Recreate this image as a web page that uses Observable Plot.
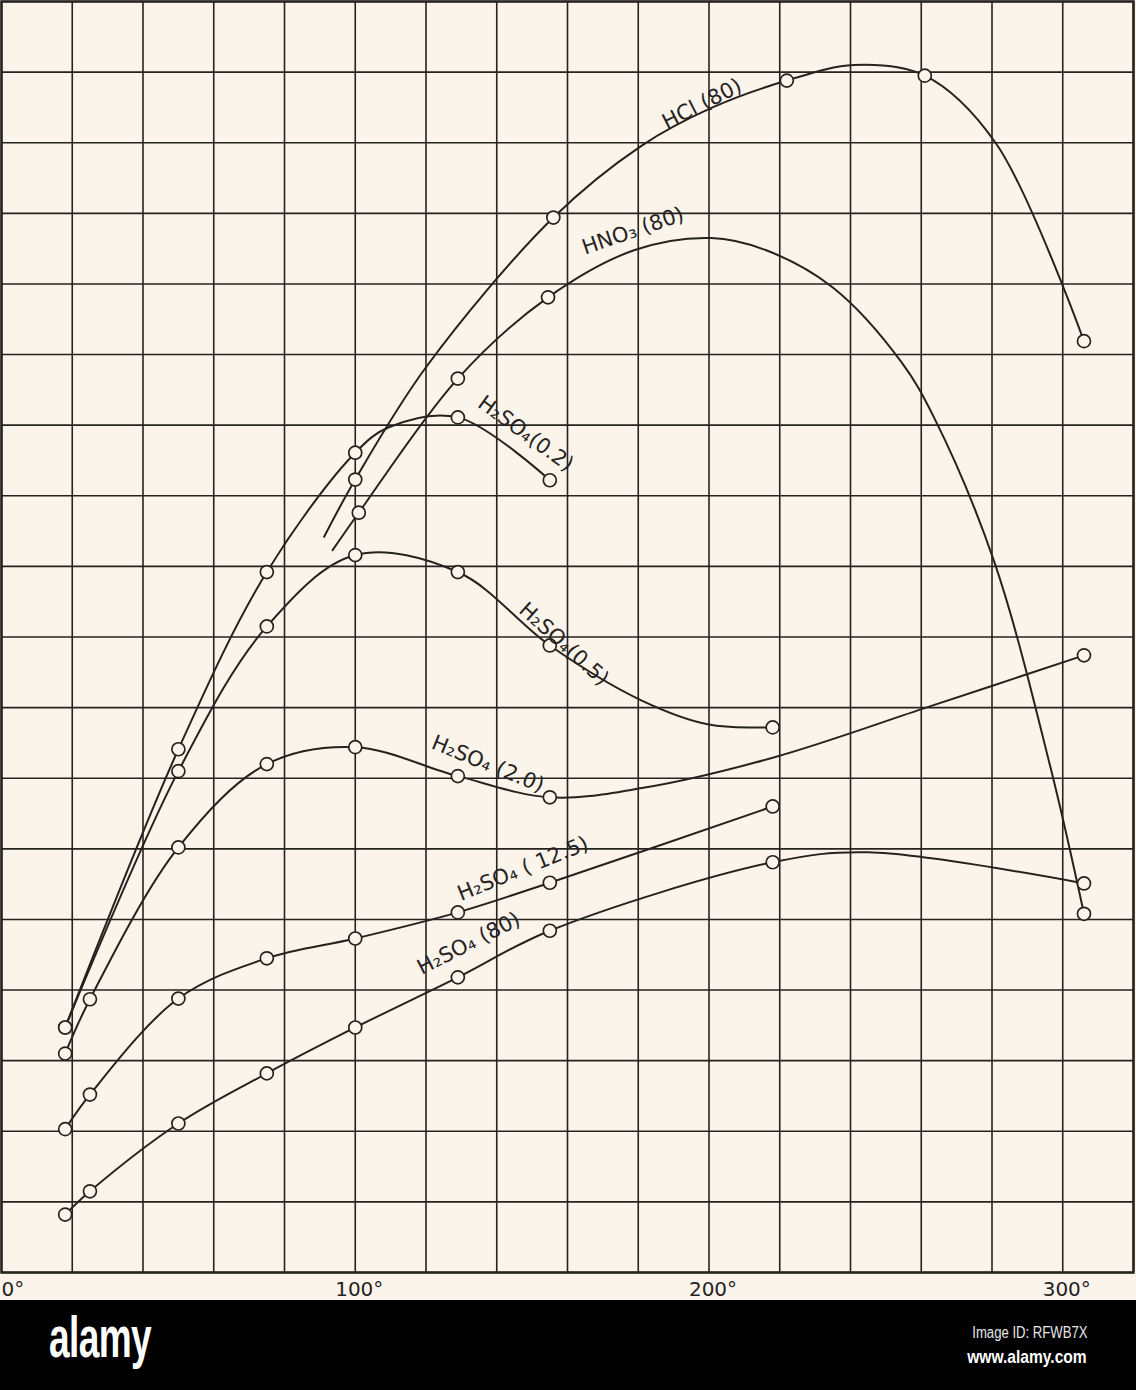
<!DOCTYPE html>
<html><head><meta charset="utf-8">
<script src="https://cdn.jsdelivr.net/npm/d3@7"></script>
<script src="https://cdn.jsdelivr.net/npm/@observablehq/plot@0.6"></script>
<style>
html,body{margin:0;padding:0;background:#fbf4eb;}
#chart svg{display:block}
#footer{position:relative;width:1136px;height:90px;background:#000;overflow:hidden;}
#footer .logo{position:absolute;left:49px;top:8px;color:#fff;font-family:"Liberation Sans","Roboto",sans-serif;font-weight:bold;font-size:58px;letter-spacing:-1px;line-height:1;transform:scaleX(0.64);transform-origin:0 0;}
#footer .id{position:absolute;right:49px;top:25px;color:#e6e6e6;font-family:"Liberation Sans","Roboto",sans-serif;font-size:16px;line-height:1;transform:scaleX(0.82);transform-origin:100% 0;}
#footer .url{position:absolute;right:49px;top:47px;color:#fff;font-family:"Liberation Sans","Roboto",sans-serif;font-weight:bold;font-size:19px;line-height:1;transform:scaleX(0.82);transform-origin:100% 0;}
</style></head><body>
<div id="chart"></div>
<div id="footer"><div class="logo">alamy</div><div class="id">Image ID: RFWB7X</div><div class="url">www.alamy.com</div></div>
<script>
// temperature (°C), reading (grid units) — circled observations
const hclObs   = [[100,11.23],[156,14.94],[222,16.88],[261,16.95],[306,13.19]];
const hno3Obs  = [[101,10.76],[129,12.66],[154.5,13.81],[306,5.08]];
const h02Obs   = [[18,3.47],[50,7.41],[75,9.92],[100,11.61],[129,12.11],[155,11.22]];
const h05Obs   = [[18,3.47],[50,7.10],[75,9.15],[100,10.16],[129,9.92],[155,8.88],[218,7.72]];
const h20Obs   = [[18,3.10],[25,3.87],[50,6.02],[75,7.20],[100,7.44],[129,7.03],[155,6.73],[306,8.74]];
const h125Obs  = [[18,2.03],[25,2.52],[50,3.88],[75,4.45],[100,4.73],[129,5.10],[155,5.52],[218,6.60]];
const h80Obs   = [[18,0.82],[25,1.15],[50,2.11],[75,2.82],[100,3.47],[129,4.18],[155,4.84],[218,5.81],[306,5.51]];

// further points (no circle)
const hclTrace  = [[91.2,10.42],[120,12.82],[181,15.96],[201,16.5],[241,17.1],[281,16.0]];
const hno3Trace = [[93.6,10.23],[179,14.48],[200.6,14.65],[216,14.48],[235,13.95],[254.3,12.9],[263.7,12.1],[280.6,10.07],[296.7,7.12]];
const h02Trace  = [[109.5,11.97]];
const h05Trace  = [[181,8.1],[200,7.76]];
const h20Trace  = [[181,6.86],[218,7.29],[262,8.01]];
const h125Trace = [];
const h80Trace  = [[245,5.95]];

const seriesNames = ["HCl (80)","HNO₃ (80)","H₂SO₄(0.2)","H₂SO₄(0.5)","H₂SO₄ (2.0)","H₂SO₄ ( 12.5)","H₂SO₄ (80)"];
const obsSets   = [hclObs,hno3Obs,h02Obs,h05Obs,h20Obs,h125Obs,h80Obs];
const traceSets = [hclTrace,hno3Trace,h02Trace,h05Trace,h20Trace,h125Trace,h80Trace];

// label anchors (data units) and their slant along the curve
const labelT     = [198,178.5,148.2,159,137.5,147.4,132.1];
const labelV     = [16.55,14.75,11.88,8.9,7.2,5.72,4.66];
const labelAngle = [-27,-19,36,42,22,-22,-27];

const xTicks = [0,100,200,300];

const ink = "#26221f", bg = "#fbf4eb";

const lineData = seriesNames.flatMap((name,i) =>
  [...obsSets[i], ...traceSets[i]].sort((a,b)=>a[0]-b[0]).map(([t,v]) => ({series:name,t,v})));
const dotData = seriesNames.flatMap((name,i) => obsSets[i].map(([t,v]) => ({series:name,t,v})));
const labels = seriesNames.map((name,i) => ({text:name,t:labelT[i],v:labelV[i],angle:labelAngle[i]}));

const chart = Plot.plot({
  width:1136, height:1300,
  marginTop:1, marginLeft:1, marginRight:3, marginBottom:28,
  x:{domain:[0,320]},
  y:{domain:[0,18], axis:null},
  style:{background:"transparent", fontFamily:"DejaVu Sans, sans-serif", color:ink},
  marks:[
    Plot.ruleX(d3.range(0,321,20), {stroke:ink, strokeWidth:1.6}),
    Plot.ruleY(d3.range(0,19), {stroke:ink, strokeWidth:1.6}),
    Plot.frame({stroke:ink, strokeWidth:2.5}),
    Plot.line(lineData, {x:"t", y:"v", z:"series", curve:"catmull-rom", stroke:ink, strokeWidth:2}),
    Plot.dot(dotData, {x:"t", y:"v", r:6.5, stroke:ink, fill:bg, strokeWidth:1.7}),
    Plot.text(labels, {x:"t", y:"v", text:"text", rotate:"angle", fontSize:21, fill:ink}),
    Plot.axisX({ticks:xTicks.filter(d=>d>0), tickFormat:d=>d+"°", tickSize:0, tickPadding:9, fontSize:20, dx:4, label:null, fill:ink}),
    Plot.axisX({ticks:xTicks.filter(d=>d===0), tickFormat:d=>d+"°", tickSize:0, tickPadding:9, fontSize:20, textAnchor:"start", dx:0, label:null, fill:ink})
  ]
});
document.getElementById("chart").appendChild(chart);
</script>
</body></html>
